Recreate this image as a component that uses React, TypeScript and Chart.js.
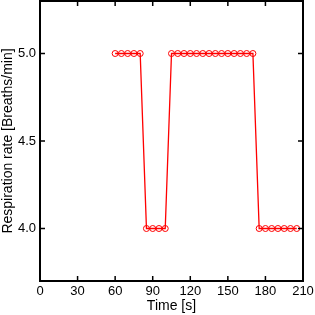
import React, { useEffect, useRef } from "react";
import { Chart, registerables } from "chart.js";

Chart.register(...registerables);

// Data
const timeSeconds = [
  60, 65, 70, 75, 80,
  85, 90, 95, 100,
  105, 110, 115, 120, 125, 130, 135, 140, 145, 150, 155, 160, 165, 170,
  175, 180, 185, 190, 195, 200, 205,
];
const respirationRate = [
  5, 5, 5, 5, 5,
  4, 4, 4, 4,
  5, 5, 5, 5, 5, 5, 5, 5, 5, 5, 5, 5, 5, 5,
  4, 4, 4, 4, 4, 4, 4,
];
const xTickValues = [0, 30, 60, 90, 120, 150, 180, 210];
const yTickValues = [4.0, 4.5, 5.0];
const xRange = [0, 210];
const yRange = [3.7, 5.3];
const xTitle = "Time [s]";
const yTitle = "Respiration rate [Breaths/min]";

const FONT = "'Liberation Sans', Arial, Helvetica, sans-serif";

const framePlugin = {
  id: "frameTicks",
  afterDraw(chart: any) {
    const { ctx, chartArea, scales } = chart;
    const { left, right, top, bottom } = chartArea;
    const x = scales.x;
    const y = scales.y;
    ctx.save();
    ctx.strokeStyle = "#000";
    ctx.lineWidth = 2;
    ctx.strokeRect(left, top, right - left, bottom - top);
    ctx.lineWidth = 1.5;
    ctx.beginPath();
    for (const v of xTickValues) {
      const px = x.getPixelForValue(v);
      ctx.moveTo(px, bottom);
      ctx.lineTo(px, bottom - 5);
      ctx.moveTo(px, top);
      ctx.lineTo(px, top + 5);
    }
    for (const v of yTickValues) {
      const py = y.getPixelForValue(v);
      ctx.moveTo(left, py);
      ctx.lineTo(left + 5, py);
      ctx.moveTo(right, py);
      ctx.lineTo(right - 5, py);
    }
    ctx.stroke();
    ctx.restore();
  },
};

export default function App() {
  const canvasRef = useRef<HTMLCanvasElement | null>(null);

  useEffect(() => {
    const canvas = canvasRef.current;
    if (!canvas) return;
    const chart = new Chart(canvas, {
      type: "line",
      data: {
        datasets: [
          {
            data: timeSeconds.map((t, i) => ({ x: t, y: respirationRate[i] })),
            borderColor: "#ff0000",
            borderWidth: 1.3,
            pointRadius: 3,
            pointBorderWidth: 1,
            pointBorderColor: "#ff0000",
            pointBackgroundColor: "rgba(0,0,0,0)",
            pointStyle: "circle",
            tension: 0,
            fill: false,
          },
        ],
      },
      options: {
        animation: false,
        responsive: false,
        maintainAspectRatio: false,
        layout: { autoPadding: false, padding: { top: 1, right: 12, left: 0, bottom: 0 } },
        plugins: {
          legend: { display: false },
          tooltip: { enabled: false },
          title: { display: false },
        },
        scales: {
          x: {
            type: "linear",
            min: xRange[0],
            max: xRange[1],
            grid: { display: false, drawTicks: false },
            border: { display: false },
            afterBuildTicks: (s: any) => {
              s.ticks = xTickValues.map((v) => ({ value: v }));
            },
            afterFit: (s: any) => {
              s.height = 34;
              s.paddingLeft = 0;
              s.paddingRight = 0;
              s.paddingTop = 0;
              s.paddingBottom = 0;
            },
            ticks: {
              autoSkip: false,
              maxRotation: 0,
              padding: 3,
              color: "#000",
              font: { family: FONT, size: 13 },
              callback: (v: any) => String(v),
            },
            title: {
              display: true,
              text: xTitle,
              color: "#000",
              font: { family: FONT, size: 14 },
              padding: { top: 0, bottom: 0 },
            },
          },
          y: {
            type: "linear",
            min: yRange[0],
            max: yRange[1],
            grid: { display: false, drawTicks: false },
            border: { display: false },
            afterBuildTicks: (s: any) => {
              s.ticks = yTickValues.map((v) => ({ value: v }));
            },
            afterFit: (s: any) => {
              s.width = 40;
              s.paddingLeft = 0;
              s.paddingRight = 0;
              s.paddingTop = 0;
              s.paddingBottom = 0;
            },
            ticks: {
              autoSkip: false,
              padding: 4,
              color: "#000",
              font: { family: FONT, size: 13 },
              callback: (v: any) => Number(v).toFixed(1),
            },
            title: {
              display: true,
              text: yTitle,
              color: "#000",
              font: { family: FONT, size: 14 },
              padding: { top: 0, bottom: 0 },
            },
          },
        },
      },
      plugins: [framePlugin],
    });
    return () => chart.destroy();
  }, []);

  return (
    <div style={{ position: "fixed", left: 0, top: 0, width: 315, height: 315, background: "#fff" }}>
      <canvas ref={canvasRef} width={315} height={315} style={{ display: "block" }} />
    </div>
  );
}
